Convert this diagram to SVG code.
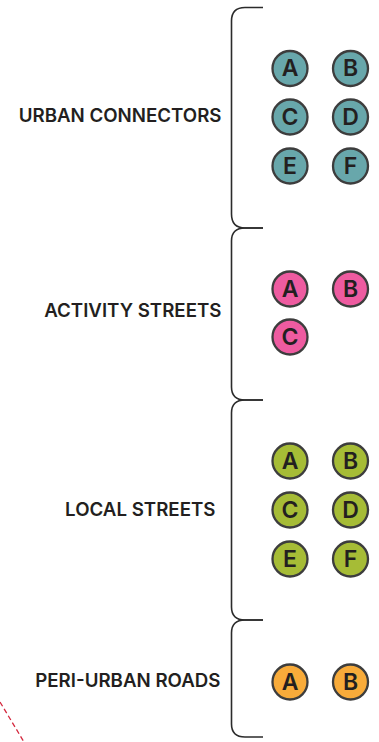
<svg xmlns="http://www.w3.org/2000/svg" width="379" height="742" viewBox="0 0 379 742">
<style>
.lbl{font-family:Inter,"Open Sans","Liberation Sans",sans-serif;font-weight:600;font-size:18.7px;fill:#231f20;text-anchor:end}
.c circle{stroke:#3d3d3d;stroke-width:2.3}
.c text{font-family:Inter,"Open Sans","Liberation Sans",sans-serif;font-weight:600;font-size:23px;fill:#231f20;text-anchor:middle;dominant-baseline:central}
.teal circle{fill:#68a7ab}
.pink circle{fill:#ee5ba0}
.lime circle{fill:#a6bc36}
.orange circle{fill:#f8ab3a}
.br{fill:none;stroke:#2b2b2b;stroke-width:1.6}
</style>
<rect width="379" height="742" fill="#ffffff"/>
<g id="connectors">
<path class="br" d="M263,7.5 H245 Q231.5,7.5 231.5,21 V214 Q231.5,228 245,228 H263"/>
<path class="br" d="M263,228 H245 Q231.5,228 231.5,241 V387 Q231.5,400 245,400 H263"/>
<path class="br" d="M263,400 H245 Q231.5,400 231.5,413 V607 Q231.5,620 245,620 H263"/>
<path class="br" d="M263,620 H245 Q231.5,620 231.5,633 V724 Q231.5,737 245,737 H263"/>
<path d="M0,702 L24,742" fill="none" stroke="#d4283e" stroke-width="1.3" stroke-dasharray="5,3"/>
</g>
<g id="urban-connectors">
<text class="lbl" x="221.5" y="122">URBAN CONNECTORS</text>
<g class="c teal">
<circle cx="290" cy="68.5" r="17.5"/><text x="290" y="68">A</text>
<circle cx="350.5" cy="68.5" r="17.5"/><text x="350.5" y="68">B</text>
<circle cx="290" cy="117" r="17.5"/><text x="290" y="116.5">C</text>
<circle cx="350.5" cy="117" r="17.5"/><text x="350.5" y="116.5">D</text>
<circle cx="290" cy="166" r="17.5"/><text x="290" y="165.5">E</text>
<circle cx="350.5" cy="166" r="17.5"/><text x="350.5" y="165.5">F</text>
</g>
</g>
<g id="activity-streets">
<text class="lbl" x="221.5" y="317">ACTIVITY STREETS</text>
<g class="c pink">
<circle cx="290" cy="289" r="17.5"/><text x="290" y="288.5">A</text>
<circle cx="350.5" cy="289" r="17.5"/><text x="350.5" y="288.5">B</text>
<circle cx="290" cy="337" r="17.5"/><text x="290" y="336.5">C</text>
</g>
</g>
<g id="local-streets">
<text class="lbl" x="215.5" y="516">LOCAL STREETS</text>
<g class="c lime">
<circle cx="290" cy="461" r="17.5"/><text x="290" y="460.5">A</text>
<circle cx="350.5" cy="461" r="17.5"/><text x="350.5" y="460.5">B</text>
<circle cx="290" cy="510" r="17.5"/><text x="290" y="509.5">C</text>
<circle cx="350.5" cy="510" r="17.5"/><text x="350.5" y="509.5">D</text>
<circle cx="290" cy="559" r="17.5"/><text x="290" y="558.5">E</text>
<circle cx="350.5" cy="559" r="17.5"/><text x="350.5" y="558.5">F</text>
</g>
</g>
<g id="peri-urban-roads">
<text class="lbl" x="220.5" y="687">PERI-URBAN ROADS</text>
<g class="c orange">
<circle cx="290" cy="682" r="17.5"/><text x="290" y="681.5">A</text>
<circle cx="350.5" cy="682" r="17.5"/><text x="350.5" y="681.5">B</text>
</g>
</g>
</svg>
